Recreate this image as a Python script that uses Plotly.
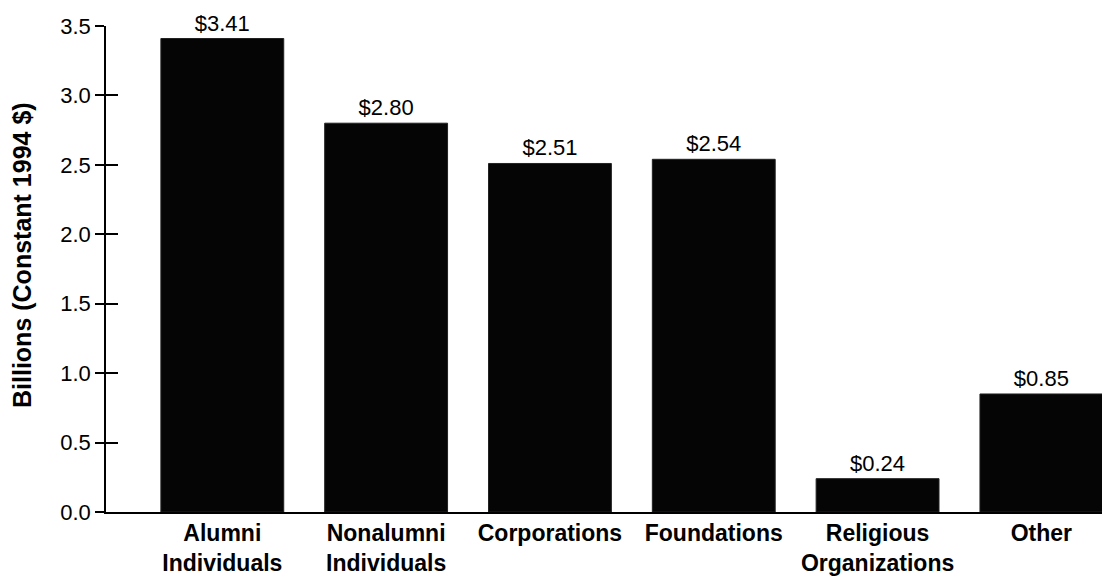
import plotly.graph_objects as go

categories = ["Alumni<br>Individuals", "Nonalumni<br>Individuals", "Corporations",
              "Foundations", "Religious<br>Organizations", "Other"]
values = [3.41, 2.80, 2.51, 2.54, 0.24, 0.85]
y_ticks = [0, 0.5, 1.0, 1.5, 2.0, 2.5, 3.0, 3.5]
y_title = "Billions (Constant 1994 $)"

FONT = "Liberation Sans, Arial, Helvetica, sans-serif"

fig = go.Figure()
fig.add_trace(go.Bar(
    x=categories, y=values,
    marker=dict(color="#050505", line=dict(color="#222222", width=1)),
    texttemplate="$%{y:.2f}", textposition="outside",
    textfont=dict(family=FONT, size=22, color="black"),
    cliponaxis=False, width=0.75,
))
# invisible helper trace to carry the inner tick marks axis
fig.add_trace(go.Scatter(x=categories, y=values, yaxis="y2", mode="markers",
                         marker=dict(opacity=0), hoverinfo="skip", showlegend=False))

fig.update_layout(
    width=1105, height=583,
    margin=dict(l=106, r=3, t=26, b=71, autoexpand=False),
    paper_bgcolor="white", plot_bgcolor="white",
    showlegend=False,
    font=dict(family=FONT, color="black"),
    xaxis=dict(range=[-0.71, 5.37], showline=True, linecolor="black", linewidth=1.5,
               ticks="", showgrid=False, automargin=False,
               tickfont=dict(family=FONT, size=23, weight="bold", color="black")),
    yaxis=dict(range=[0, 3.5], tickvals=y_ticks, tickformat=".1f",
               showline=True, linecolor="black", linewidth=1.5,
               ticks="outside", ticklen=9, tickwidth=1.5, tickcolor="black",
               showgrid=False, zeroline=False, automargin=False,
               tickfont=dict(family=FONT, size=22, color="black")),
    yaxis2=dict(range=[0, 3.5], tickvals=y_ticks, overlaying="y", side="left",
                anchor="x", ticks="inside", ticklen=12, tickwidth=1.5, tickcolor="black",
                showticklabels=False, showgrid=False, zeroline=False, showline=False,
                automargin=False),
    annotations=[dict(text=y_title, xref="paper", yref="paper", x=0, y=0.5,
                      xshift=-84, yshift=14, xanchor="center", yanchor="middle",
                      textangle=-90, showarrow=False,
                      font=dict(family=FONT, size=25, weight="bold", color="black"))],
)

fig.write_html("out.html", config={"displayModeBar": False},
               post_script="document.body.style.margin='0';")
